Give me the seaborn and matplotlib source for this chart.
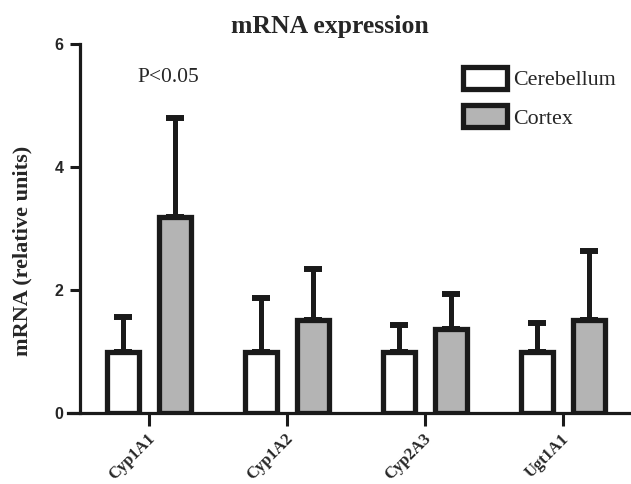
import matplotlib
matplotlib.use("Agg")
import matplotlib.pyplot as plt
import matplotlib.patches as mpatches
import matplotlib.transforms as mtrans
import seaborn as sns
import pandas as pd
import numpy as np

genes = ["Cyp1A1", "Cyp1A2", "Cyp2A3", "Ugt1A1"]
regions = ["Cerebellum", "Cortex"]
cerebellum_mean = [1.0, 1.0, 1.0, 1.0]
cortex_mean = [3.19, 1.51, 1.36, 1.51]
cerebellum_err = [0.56, 0.87, 0.43, 0.47]
cortex_err = [1.61, 0.83, 0.57, 1.12]
yticks = [0, 2, 4, 6]
annotation = "P<0.05"

sns.set_style("ticks")
plt.rcParams["font.family"] = ["Liberation Serif", "DejaVu Serif"]

df = pd.DataFrame({
    "Gene": genes + genes,
    "Region": [regions[0]] * len(genes) + [regions[1]] * len(genes),
    "mRNA": cerebellum_mean + cortex_mean,
})
errs = {regions[0]: cerebellum_err, regions[1]: cortex_err}

W, H = 631, 484
fig = plt.figure(figsize=(W / 100, H / 100), dpi=100)
ax = fig.add_axes([68 / W, 1 - 413 / H, (631 - 68) / W, (413 - 44) / H])

edge = "#1a1a1a"
gray = "#b4b4b4"
lw = 3.8
sns.barplot(data=df, x="Gene", y="mRNA", hue="Region", order=genes,
            hue_order=regions, palette={regions[0]: "white", regions[1]: gray},
            edgecolor=edge, linewidth=lw, width=0.76, gap=0.39,
            errorbar=None, legend=False, ax=ax, zorder=2)

for cont, reg in zip(ax.containers, regions):
    xs = [b.get_x() + b.get_width() / 2 for b in cont]
    hs = [b.get_height() for b in cont]
    up = errs[reg]
    ax.errorbar(xs, hs, yerr=[np.zeros(len(up)), up], fmt="none",
                ecolor=edge, elinewidth=3.6, capsize=6.5, capthick=4.3,
                zorder=1)

# spines first (set_position resets tick label styling)
for s in ["top", "right"]:
    ax.spines[s].set_visible(False)
ax.spines["left"].set_position(("axes", (80 - 68) / (631 - 68)))
ax.spines["left"].set_linewidth(2.3)
ax.spines["bottom"].set_linewidth(2.3)
ax.spines["left"].set_color(edge)
ax.spines["bottom"].set_color(edge)
ax.patch.set_visible(False)

ax.set_xlim(-0.587, 3.493)
ax.set_ylim(0, 6)
ax.set_xlabel("")
ax.set_ylabel("")
ax.tick_params(axis="y", length=7, width=2.2, color=edge, pad=5)
ax.tick_params(axis="x", length=9, width=2.2, color=edge, pad=8)
ax.set_yticks(yticks)
ax.set_yticklabels([str(t) for t in yticks], family="Liberation Sans",
                   fontweight="bold", fontsize=11.5)
ax.set_xticks(range(len(genes)))
ax.set_xticklabels(genes, rotation=45, ha="right", va="center",
                   rotation_mode="anchor", fontweight="bold", fontsize=12)
shift = mtrans.ScaledTranslation(4 / 100, 0, fig.dpi_scale_trans)
for lab in ax.get_xticklabels():
    lab.set_transform(lab.get_transform() + shift)

ax.text(0.14, 5.45, annotation, ha="center", va="center", fontsize=15.5)

fig.text(330 / W, 1 - 26 / H, "mRNA expression", ha="center", va="center",
         fontweight="bold", fontsize=18.5)
fig.text(22 / W, 1 - 251 / H, "mRNA (relative units)", ha="center",
         va="center", rotation=90, fontweight="bold", fontsize=16)

handles = [mpatches.Patch(facecolor="white", edgecolor=edge, linewidth=lw),
           mpatches.Patch(facecolor=gray, edgecolor=edge, linewidth=lw)]
ax.legend(handles, regions, loc="upper left",
          bbox_to_anchor=(463 / W, 1 - 67 / H), bbox_transform=fig.transFigure,
          frameon=False, fontsize=15.8, handlelength=2.0, handleheight=1.15,
          labelspacing=0.68, handletextpad=0.3, borderpad=0, borderaxespad=0)

fig.savefig("out.png", dpi=100)
